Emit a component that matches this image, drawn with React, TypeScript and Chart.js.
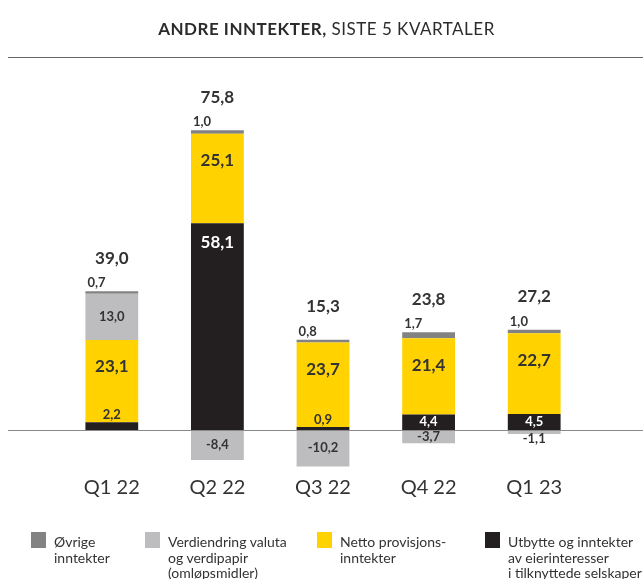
import React, { useEffect, useRef } from "react";
import { Chart, registerables } from "chart.js";
Chart.register(...registerables);

const categories = ["Q1 22", "Q2 22", "Q3 22", "Q4 22", "Q1 23"];
const utbytte = [2.2, 58.1, 0.9, 4.4, 4.5];
const netto = [23.1, 25.1, 23.7, 21.4, 22.7];
const verdiendring = [13.0, -8.4, -10.2, -3.7, -1.1];
const ovrige = [0.7, 1.0, 0.8, 1.7, 1.0];
const totals = [39.0, 75.8, 15.3, 23.8, 27.2];

const legendItems = [
  { color: "#828282", lines: ["Øvrige", "inntekter"] },
  { color: "#bdbdc0", lines: ["Verdiendring valuta", "og verdipapir", "(omløpsmidler)"] },
  { color: "#ffd200", lines: ["Netto provisjons-", "inntekter"] },
  { color: "#231f20", lines: ["Utbytte og inntekter", "av eierinteresser", "i tilknyttede selskaper"] },
];

const FONT = "Lato, 'Open Sans', sans-serif";
const TEXT = "#333333";
const fmt = (v: number) => v.toFixed(1).replace(".", ",");

const labelPlugin = {
  id: "barLabels",
  beforeDatasetsDraw(chart: any) {
    const ctx = chart.ctx;
    ctx.save();
    ctx.strokeStyle = "#666666";
    ctx.lineWidth = 1.2;
    ctx.beginPath();
    ctx.moveTo(8, 57.5);
    ctx.lineTo(chart.width, 57.5);
    ctx.stroke();
    ctx.restore();
  },
  afterDatasetsDraw(chart: any) {
    const ctx = chart.ctx;
    const z = chart.scales.y.getPixelForValue(0);
    ctx.save();
    ctx.strokeStyle = "#8a8a8a";
    ctx.lineWidth = 1;
    ctx.beginPath();
    ctx.moveTo(8, Math.round(z) + 0.5);
    ctx.lineTo(chart.width, Math.round(z) + 0.5);
    ctx.stroke();

    ctx.textBaseline = "middle";
    const small = `bold 13px ${FONT}`;
    const big = `bold 17px ${FONT}`;
    categories.forEach((cat, i) => {
      const b = [0, 1, 2, 3].map((d) => chart.getDatasetMeta(d).data[i]);
      const u = b[0];
      const uh = Math.abs(u.base - u.y);
      ctx.textAlign = "center";
      if (uh >= 14) {
        ctx.fillStyle = "#ffffff";
        if (utbytte[i] >= 20) {
          ctx.font = big;
          ctx.fillText(fmt(utbytte[i]), u.x, u.y + 19);
        } else {
          ctx.font = small;
          ctx.fillText(fmt(utbytte[i]), u.x, (u.y + u.base) / 2);
        }
      } else {
        ctx.fillStyle = TEXT;
        ctx.font = small;
        ctx.fillText(fmt(utbytte[i]), u.x, u.y - 7);
      }
      const n = b[1];
      ctx.fillStyle = TEXT;
      ctx.font = big;
      ctx.fillText(fmt(netto[i]), n.x, n.y + 27);
      const v = b[2];
      ctx.font = small;
      const vh = Math.abs(v.base - v.y);
      if (verdiendring[i] >= 0) {
        ctx.fillText(fmt(verdiendring[i]), v.x, (v.y + v.base) / 2);
      } else {
        const cy = vh < 10 ? v.y + 5 : (v.y + v.base) / 2;
        ctx.fillText(fmt(verdiendring[i]), v.x, cy);
      }
      const o = b[3];
      ctx.textAlign = "left";
      ctx.textBaseline = "alphabetic";
      ctx.fillText(fmt(ovrige[i]), o.x - o.width / 2 + 2, o.y - 4);
      ctx.textBaseline = "middle";
      ctx.textAlign = "center";
      ctx.font = big;
      ctx.fillText(fmt(totals[i]), o.x, o.y - 33);
      ctx.font = `20px ${FONT}`;
      ctx.fillText(cat, u.x, z + 57);
    });
    ctx.restore();
  },
};

export default function App() {
  const ref = useRef<HTMLCanvasElement | null>(null);
  useEffect(() => {
    if (!ref.current) return;
    const chart = new Chart(ref.current, {
      type: "bar",
      data: {
        labels: categories,
        datasets: [
          { label: "Utbytte", data: utbytte, backgroundColor: "#231f20" },
          { label: "Netto", data: netto, backgroundColor: "#ffd200" },
          { label: "Verdiendring", data: verdiendring, backgroundColor: "#bdbdc0" },
          { label: "Øvrige", data: ovrige, backgroundColor: "#828282" },
        ],
      },
      options: {
        responsive: false,
        animation: false,
        devicePixelRatio: 1,
        layout: { padding: { left: 59, right: 56, top: 81, bottom: 99 } },
        datasets: { bar: { barPercentage: 0.5, categoryPercentage: 1, borderWidth: 0 } },
        scales: {
          x: { stacked: true, display: false },
          y: { stacked: true, display: false, min: -14, max: 98 },
        },
        plugins: { legend: { display: false }, tooltip: { enabled: false }, title: { display: false } },
      },
      plugins: [labelPlugin],
    });
    return () => chart.destroy();
  }, []);

  return (
    <div style={{ position: "fixed", left: 0, top: 0, width: 643, height: 579, background: "#fff", fontFamily: FONT, color: TEXT }}>
      <canvas ref={ref} width={643} height={579} style={{ position: "absolute", left: 0, top: 0 }} />
      <div style={{ position: "absolute", left: 0, top: 18, width: 653, textAlign: "center", fontSize: 17, lineHeight: "21px", letterSpacing: "0.5px", color: "#2b2b2b" }}>
        <span style={{ fontWeight: 700 }}>ANDRE INNTEKTER,</span>
        <span style={{ fontWeight: 400 }}> SISTE 5 KVARTALER</span>
      </div>
      {legendItems.map((it, i) => {
        const lefts = [31, 145, 317, 485];
        return (
          <div key={i} style={{ position: "absolute", left: lefts[i], top: 532, display: "flex" }}>
            <div style={{ width: 15, height: 16, background: it.color, marginRight: 8, flex: "none" }} />
            <div style={{ fontSize: 14, lineHeight: "15.5px", marginTop: 2, whiteSpace: "nowrap" }}>
              {it.lines.map((l, j) => (
                <div key={j}>{l}</div>
              ))}
            </div>
          </div>
        );
      })}
    </div>
  );
}
